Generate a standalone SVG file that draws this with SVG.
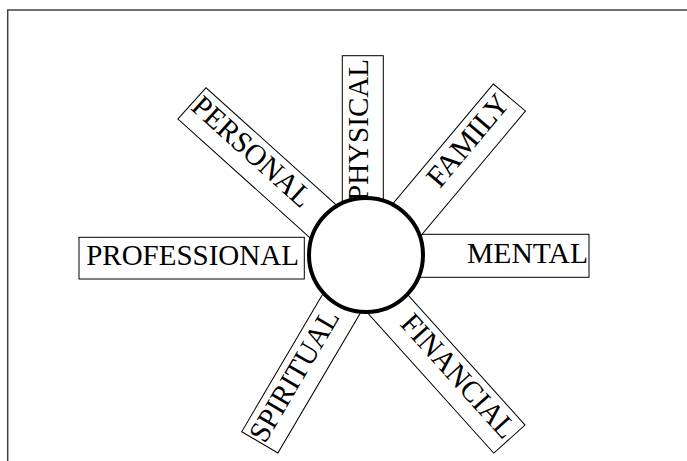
<svg xmlns="http://www.w3.org/2000/svg" width="687" height="461" viewBox="0 0 687 461">
  <style>
    .bar { fill: #ffffff; stroke: #000000; stroke-width: 1; }
    .lbl { font-family: "Liberation Serif", "Times New Roman", serif; font-size: 30px; fill: #000000; }
    .hub { fill: #ffffff; stroke: #000000; stroke-width: 4; }
    .frame { fill: none; stroke: #404040; stroke-width: 1.5; }
  </style>
  <path class="frame" d="M7.7,461 V10 H687"/>

  <g id="professional">
    <rect class="bar" x="79" y="237.3" width="225.3" height="41.7"/>
    <text class="lbl" x="86.2" y="264.5" textLength="212.7" lengthAdjust="spacingAndGlyphs">PROFESSIONAL</text>
  </g>

  <g id="mental">
    <rect class="bar" x="400" y="234.3" width="189" height="43"/>
    <text class="lbl" x="588" y="262.5" text-anchor="end" textLength="121" lengthAdjust="spacingAndGlyphs">MENTAL</text>
  </g>

  <g id="physical">
    <rect class="bar" x="342.3" y="55.7" width="41" height="175"/>
    <text class="lbl" transform="translate(367.5,59) rotate(-90)" text-anchor="end" textLength="142" lengthAdjust="spacingAndGlyphs">PHYSICAL</text>
  </g>

  <g id="personal" transform="translate(206,87.7) rotate(42)">
    <rect class="bar" x="0" y="0" width="245" height="42"/>
    <text class="lbl" x="2" y="26.5" textLength="150" lengthAdjust="spacingAndGlyphs">PERSONAL</text>
  </g>

  <g id="family" transform="translate(493.3,84) rotate(-50)">
    <rect class="bar" x="-225" y="0" width="225" height="42"/>
    <text class="lbl" x="-4" y="26.5" text-anchor="end" textLength="111" lengthAdjust="spacingAndGlyphs">FAMILY</text>
  </g>

  <g id="spiritual" transform="translate(241.7,431.7) rotate(-59.5)">
    <rect class="bar" x="0" y="0" width="230" height="42"/>
    <text class="lbl" x="1" y="26.5" textLength="148" lengthAdjust="spacingAndGlyphs">SPIRITUAL</text>
  </g>

  <g id="financial" transform="translate(525,425) rotate(48)">
    <rect class="bar" x="-245" y="0" width="245" height="42"/>
    <text class="lbl" x="-3" y="26.5" text-anchor="end" textLength="156" lengthAdjust="spacingAndGlyphs">FINANCIAL</text>
  </g>

  <g id="hub">
    <circle class="hub" cx="366" cy="255" r="57"/>
  </g>
</svg>
